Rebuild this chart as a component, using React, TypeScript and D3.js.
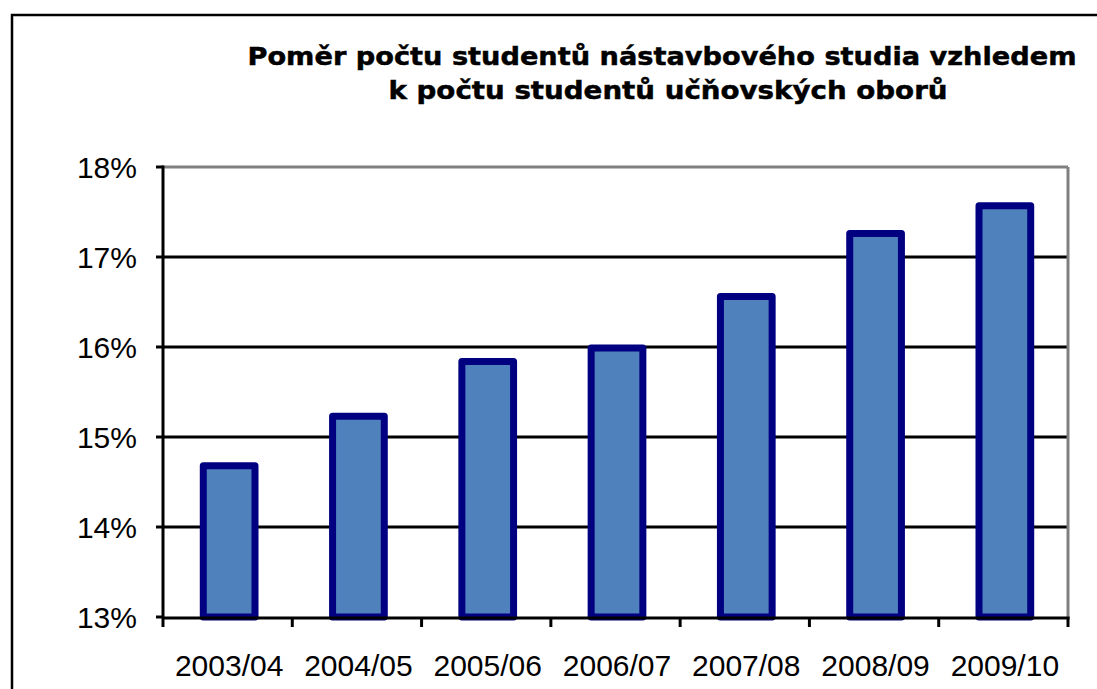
import React from 'react';
import * as d3 from 'd3';

const categories = ['2003/04', '2004/05', '2005/06', '2006/07', '2007/08', '2008/09', '2009/10'];
const values = [14.68, 15.23, 15.84, 15.99, 16.56, 17.26, 17.57];
const yTicks = [13, 14, 15, 16, 17, 18];
const titleLines = [
  'Poměr počtu studentů nástavbového studia vzhledem',
  'k počtu studentů učňovských oborů',
];
const titleWidths = [829, 559];
const titleCenters = [662, 668];

export default function App() {
  const W = 1097;
  const H = 689;
  const left = 163;
  const right = 1068;
  const top = 167;
  const bottom = 617;

  const x = d3.scaleBand<string>().domain(categories).range([left, right]).paddingInner(0.6).paddingOuter(0.3);
  const y = d3.scaleLinear().domain([13, 18]).range([bottom, top]);
  const step = x.step();
  const barShift = 1.5;

  return (
    <svg
      width={W}
      height={H}
      style={{ position: 'absolute', left: 0, top: 0, background: '#fff' }}
      fontFamily="'Liberation Sans', Arial, sans-serif"
    >
      <rect x={0} y={0} width={W} height={H} fill="#fff" />
      {/* outer frame */}
      <rect x={12} y={15} width={W + 50} height={H + 50} fill="none" stroke="#000" strokeWidth={2.5} />

      {/* title */}
      {titleLines.map((t, i) => (
        <text
          key={i}
          x={titleCenters[i]}
          y={65 + i * 34}
          textAnchor="middle"
          fontFamily="'DejaVu Sans', Verdana, sans-serif"
          fontWeight="bold"
          fontSize={25.5}
          textLength={titleWidths[i]}
          lengthAdjust="spacingAndGlyphs"
          stroke="#000"
          strokeWidth={0.5}
        >
          {t}
        </text>
      ))}

      {/* gridlines */}
      {yTicks.filter((t) => t > 13 && t < 18).map((t) => (
        <line key={t} x1={left} x2={right} y1={y(t)} y2={y(t)} stroke="#000" strokeWidth={3} />
      ))}
      {/* plot border top & right (gray) */}
      <line x1={left} x2={right} y1={y(18)} y2={y(18)} stroke="#808080" strokeWidth={3} />
      <line x1={right} x2={right} y1={y(18)} y2={bottom} stroke="#808080" strokeWidth={3} />

      {/* bars */}
      {categories.map((c, i) => (
        <rect
          key={c}
          x={(x(c) as number) + barShift}
          y={y(values[i])}
          width={x.bandwidth()}
          height={y(13) - y(values[i])}
          fill="#4F81BD"
          stroke="#000080"
          strokeWidth={7}
          strokeLinejoin="round"
        />
      ))}

      {/* y axis */}
      <line x1={left} x2={left} y1={y(18) - 1.5} y2={bottom + 10} stroke="#000" strokeWidth={3} />
      {yTicks.map((t) => (
        <g key={t}>
          <line x1={left - 7} x2={left} y1={y(t)} y2={y(t)} stroke="#000" strokeWidth={3} />
          <text x={137} y={y(t)} dy="0.35em" textAnchor="end" fontSize={30} fill="#000">
            {t}%
          </text>
        </g>
      ))}

      {/* x axis */}
      <line x1={left} x2={right + 1.5} y1={bottom + 1} y2={bottom + 1} stroke="#000" strokeWidth={3} />
      {categories.map((c, i) => (
        <line
          key={c}
          x1={left + (i + 1) * step}
          x2={left + (i + 1) * step}
          y1={bottom}
          y2={bottom + 10}
          stroke="#000"
          strokeWidth={3}
        />
      ))}
      {categories.map((c) => (
        <text
          key={c}
          x={(x(c) as number) + x.bandwidth() / 2 + barShift}
          y={676}
          textAnchor="middle"
          fontSize={30}
          fill="#000"
        >
          {c}
        </text>
      ))}
    </svg>
  );
}
